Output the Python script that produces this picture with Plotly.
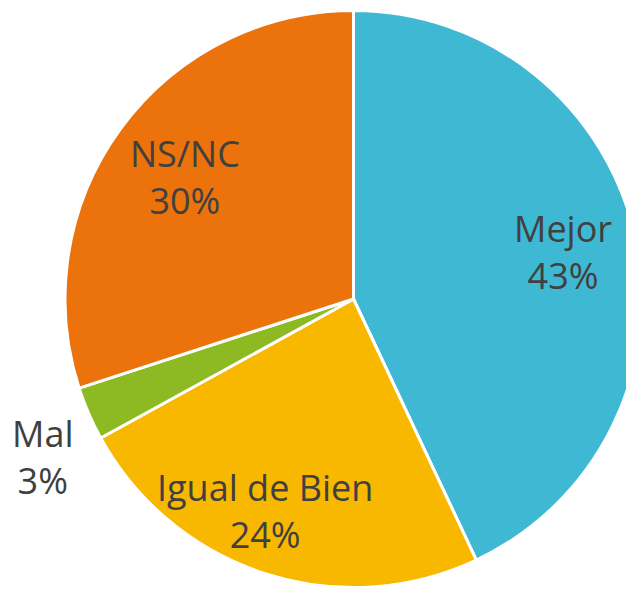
import math
import plotly.graph_objects as go

labels = ["Mejor", "Igual de Bien", "Mal", "NS/NC"]
values = [43, 24, 3, 30]
colors = ["#3FB8D4", "#F9B800", "#8DBA23", "#EC720B"]

# label placement (radial factor relative to pie radius, angular tweak in degrees)
label_radius = [0.745, 0.795, 1.21, 0.72]
label_angle_tweak = [0, 4.7, -3.5, 0]

W, H = 634, 591
dom_x = [57 / 634, 1.0]
dom_y = [11.5 / 591, 588.5 / 591]

fig = go.Figure(go.Pie(
    labels=labels,
    values=values,
    sort=False,
    direction="clockwise",
    rotation=0,
    marker=dict(colors=colors, line=dict(color="white", width=3)),
    textinfo="none",
    showlegend=False,
    hoverinfo="label+percent",
    domain=dict(x=dom_x, y=dom_y),
    automargin=False,
))

# geometry of the pie (plotly: radius = half of the smaller domain side)
dw = (dom_x[1] - dom_x[0]) * W
dh = (dom_y[1] - dom_y[0]) * H
R = min(dw, dh) / 2
cx = (dom_x[0] + dom_x[1]) / 2 * W
cy = (dom_y[0] + dom_y[1]) / 2 * H  # from bottom

total = sum(values)
cum = 0
for lab, v, f, tw in zip(labels, values, label_radius, label_angle_tweak):
    mid = (cum + v / 2) / total * 360 + tw
    cum += v
    a = math.radians(mid)
    x = cx + f * R * math.sin(a)
    y = cy + f * R * math.cos(a)
    fig.add_annotation(
        x=x / W, y=y / H, xref="paper", yref="paper",
        text=f"{lab}<br>{round(v / total * 100)}%",
        showarrow=False, xanchor="center", yanchor="middle",
        font=dict(family="Open Sans", size=36, color="#404040"),
        align="center",
    )

fig.update_layout(
    width=W, height=H,
    margin=dict(l=0, r=0, t=0, b=0),
    paper_bgcolor="white",
    plot_bgcolor="white",
)
fig.write_html("out.html")
